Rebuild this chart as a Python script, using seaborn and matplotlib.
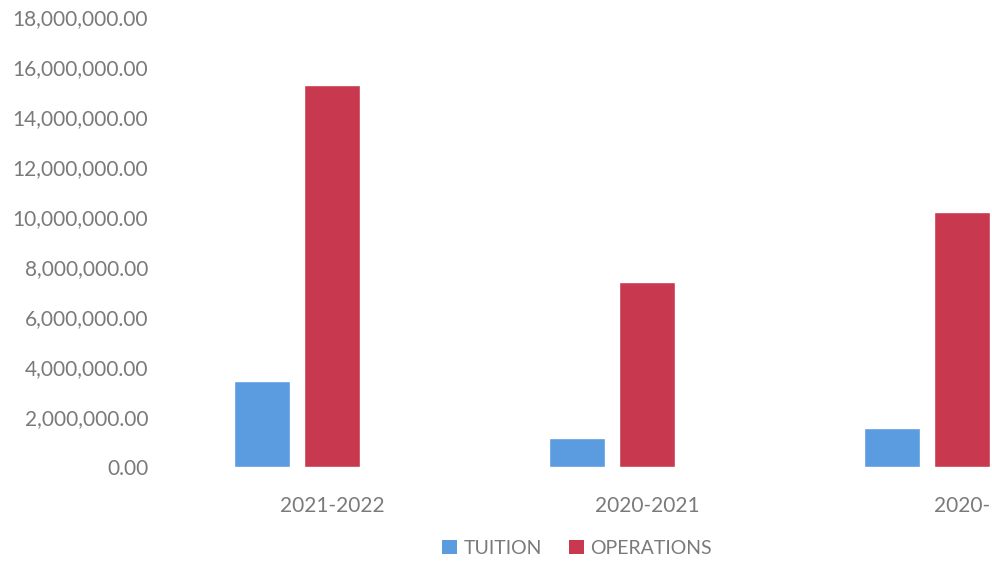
import matplotlib
matplotlib.use("Agg")
import matplotlib.pyplot as plt
from matplotlib.patches import Patch
from matplotlib.ticker import FuncFormatter
import seaborn as sns
import pandas as pd

# School funding by year
years = ["2021-2022", "2020-2021", "2020-"]
tuition = [3450000, 1170000, 1570000]
operations = [15300000, 7400000, 10200000]
series = ["TUITION", "OPERATIONS", "OTHER"]
colors = ["#5b9bdf", "#c8384e", "#a5a5a5"]
yticks = list(range(0, 18000001, 2000000))

df = pd.DataFrame({
    "year": years * 2,
    "series": ["TUITION"] * 3 + ["OPERATIONS"] * 3,
    "amount": tuition + operations,
})

sns.set_theme(style="white")
plt.rcParams["font.family"] = ["Lato", "DejaVu Sans"]
text_color = "#7a7a7a"

fig = plt.figure(figsize=(9.92, 5.62), dpi=100)
ax = fig.add_axes([160 / 992, 1 - 467 / 562, 1 - 160 / 992, (467 - 17) / 562])

sns.barplot(
    data=df, x="year", y="amount", hue="series",
    order=years, hue_order=series,
    palette=dict(zip(series, colors)),
    width=0.665, gap=0.2, saturation=1, legend=False, ax=ax,
)

ax.set_xlim(-0.546, 2.095)
ax.set_ylim(0, 18000000)
ax.set_yticks(yticks)
ax.yaxis.set_major_formatter(FuncFormatter(lambda v, _: f"{v:,.2f}"))
ax.set_xlabel("")
ax.set_ylabel("")
ax.tick_params(axis="both", length=0, labelsize=15, colors=text_color)
ax.tick_params(axis="x", pad=21)
ax.tick_params(axis="y", pad=8.5)
for s in ax.spines.values():
    s.set_visible(False)
ax.grid(False)

handles = [Patch(facecolor=c, edgecolor="none") for c in colors[:2]]
fig.legend(
    handles, series[:2], loc="center", bbox_to_anchor=(577 / 992, 1 - 548 / 562),
    ncol=2, frameon=False, fontsize=14, labelcolor=text_color,
    handlelength=0.75, handleheight=0.75, handletextpad=0.35, columnspacing=1.4,
)

fig.savefig("out.png", dpi=100)
